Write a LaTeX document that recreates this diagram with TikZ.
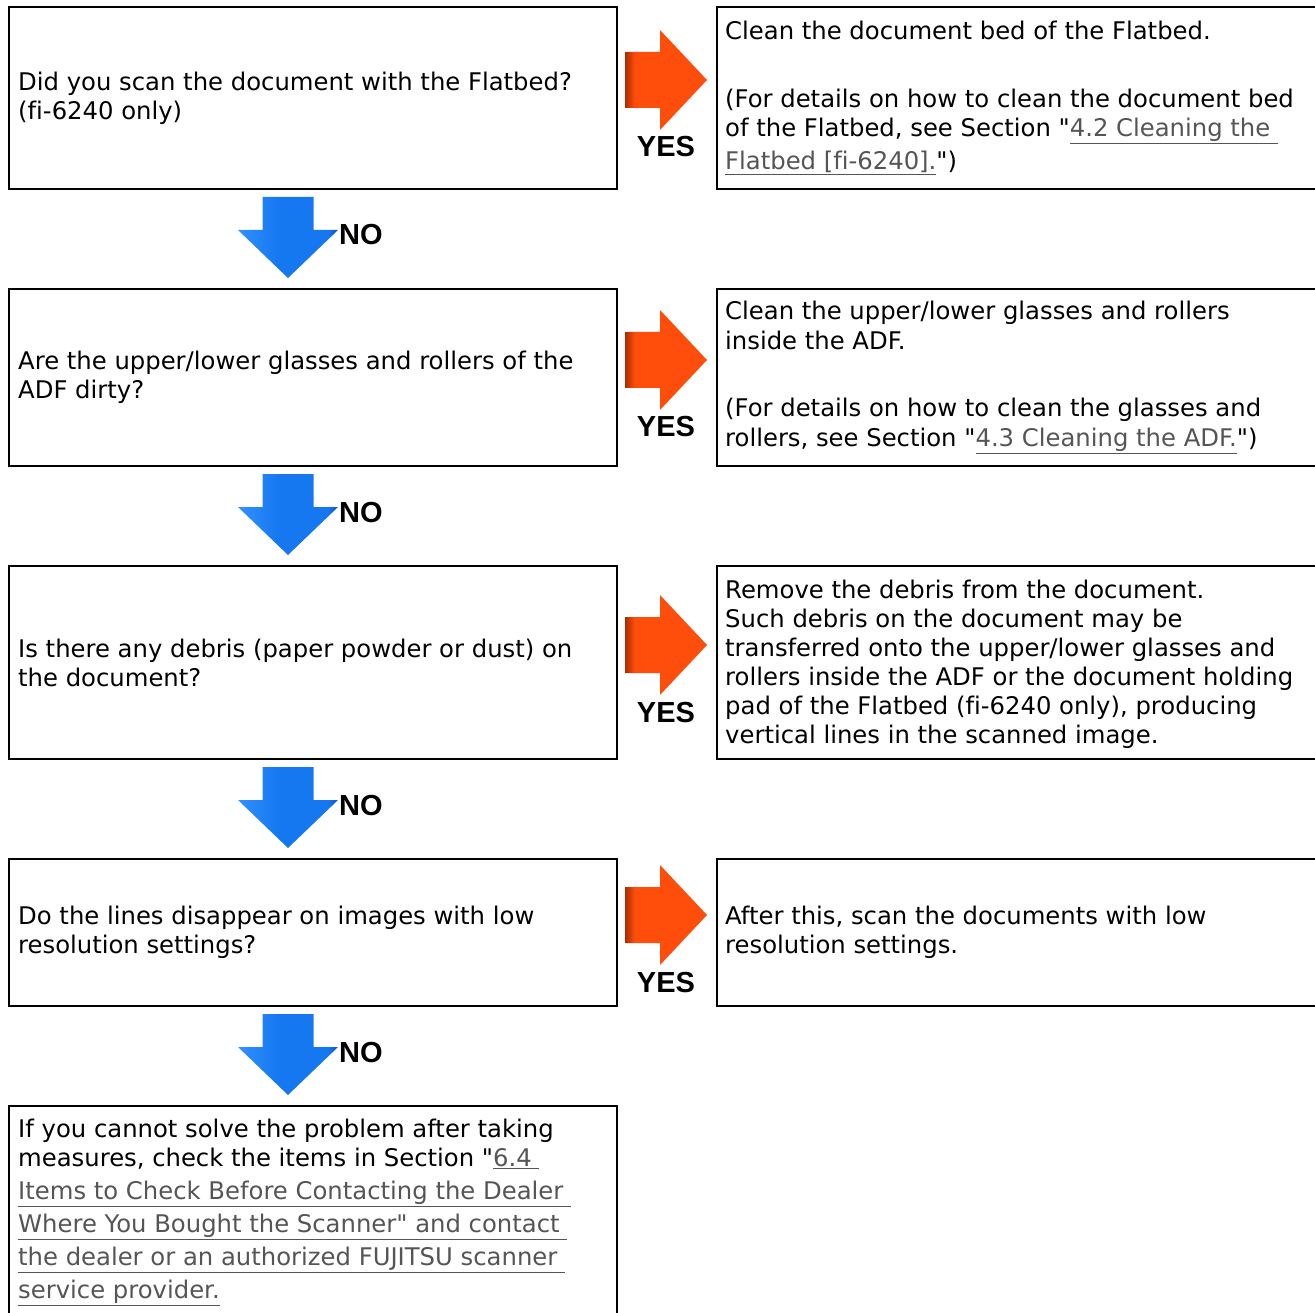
\documentclass[tikz,border=0pt]{standalone}
\usepackage{fontspec}
\setmainfont{DejaVu Sans}[Ligatures={TeXOff,CommonOff}]
\newfontfamily\labfont{Liberation Sans}
\definecolor{linkgray}{HTML}{555555}
\definecolor{omain}{RGB}{255,78,12}
\definecolor{oshadow}{RGB}{170,45,0}
\definecolor{blight}{RGB}{50,145,255}
\definecolor{bmain}{RGB}{22,120,240}
\definecolor{bdark}{RGB}{5,80,200}
\newcommand{\lnk}[1]{\textcolor{linkgray}{\underline{#1}}}
\pgfdeclarehorizontalshading{orangearrow}{100bp}{color(0bp)=(oshadow); color(25bp)=(oshadow); color(31bp)=(omain); color(100bp)=(omain)}
\pgfdeclarehorizontalshading{bluearrow}{100bp}{color(0bp)=(blight); color(25bp)=(blight); color(45bp)=(bmain); color(70bp)=(bmain); color(75bp)=(bdark); color(100bp)=(bdark)}
\tikzset{
  box/.style={draw=black, line width=2pt, rectangle, anchor=north west, inner sep=0pt},
  boxtext/.style={anchor=west, inner sep=0pt, align=left, font=\fontsize{24.3}{29}\selectfont},
  yeslab/.style={anchor=base, inner sep=0pt, font=\labfont\bfseries\fontsize{29}{29}\selectfont},
  nolab/.style={anchor=base west, inner sep=0pt, font=\labfont\bfseries\fontsize{29}{29}\selectfont},
}
\newcommand{\rarrow}[1]{\shade[shading=orangearrow, shift={(#1)}] (-82,-28) -- (-47,-28) -- (-47,-50) -- (0,0) -- (-47,50) -- (-47,28) -- (-82,28) -- cycle;}
\newcommand{\darrow}[1]{\shade[shading=bluearrow, shift={(#1)}] (-25.5,-81) -- (25.5,-81) -- (25.5,-48) -- (50,-48) -- (0,0) -- (-50,-48) -- (-25.5,-48) -- cycle;}
\begin{document}
\begin{tikzpicture}[x=1pt,y=-1pt]
\useasboundingbox (0,0) rectangle (1315,1313);
\clip (0,0) rectangle (1315,1313);
\fill[white] (0,0) rectangle (1315,1313);
% question boxes
\node[box, minimum width=608pt, minimum height=182pt] (q1) at (8,6) {};
\node[box, minimum width=608pt, minimum height=177pt] (q2) at (8,288) {};
\node[box, minimum width=608pt, minimum height=193pt] (q3) at (8,565) {};
\node[box, minimum width=608pt, minimum height=147pt] (q4) at (8,858) {};
\node[box, minimum width=608pt, minimum height=240pt] (q5) at (8,1105) {};
% answer boxes
\node[box, minimum width=640pt, minimum height=182pt] (a1) at (716,6) {};
\node[box, minimum width=640pt, minimum height=177pt] (a2) at (716,288) {};
\node[box, minimum width=640pt, minimum height=193pt] (a3) at (716,565) {};
\node[box, minimum width=640pt, minimum height=147pt] (a4) at (716,858) {};
% texts
\node[boxtext] (tq1) at ([xshift=10pt]q1.west) {Did you scan the document with the Flatbed?\\(fi-6240 only)};
\node[boxtext] (tq2) at ([xshift=10pt]q2.west) {Are the upper/lower glasses and rollers of the\\ADF dirty?};
\node[boxtext] (tq3) at ([xshift=10pt]q3.west) {Is there any debris (paper powder or dust) on\\the document?};
\node[boxtext] (tq4) at ([xshift=10pt]q4.west) {Do the lines disappear on images with low\\resolution settings?};
\node[boxtext, anchor=north west] (tq5) at (18,1119) {If you cannot solve the problem after taking\\measures, check the items in Section "\lnk{6.4 }\\[4pt]\lnk{Items to Check Before Contacting the Dealer }\\[4pt]\lnk{Where You Bought the Scanner" and contact }\\[4pt]\lnk{the dealer or an authorized FUJITSU scanner }\\[4pt]\lnk{service provider.}};
\node[boxtext] (ta1) at ([xshift=9pt]a1.west) {Clean the document bed of the Flatbed.\\[39pt](For details on how to clean the document bed\\of the Flatbed, see Section "\lnk{4.2 Cleaning the }\\[4pt]\lnk{Flatbed [fi-6240].}")};
\node[boxtext] (ta2) at ([xshift=9pt]a2.west) {Clean the upper/lower glasses and rollers\\[1pt]inside the ADF.\\[38pt](For details on how to clean the glasses and\\[1pt]rollers, see Section "\lnk{4.3 Cleaning the ADF.}")};
\node[boxtext] (ta3) at ([xshift=9pt,yshift=-2pt]a3.west) {Remove the debris from the document.\\Such debris on the document may be\\transferred onto the upper/lower glasses and\\rollers inside the ADF or the document holding\\pad of the Flatbed (fi-6240 only), producing\\vertical lines in the scanned image.};
\node[boxtext] (ta4) at ([xshift=9pt]a4.west) {After this, scan the documents with low\\resolution settings.};
% YES arrows
\coordinate (r1) at (707,80);
\coordinate (r2) at (707,360);
\coordinate (r3) at (707,645);
\coordinate (r4) at (707,915);
\rarrow{r1}\rarrow{r2}\rarrow{r3}\rarrow{r4}
\node[yeslab] (y1) at (666,157) {YES};
\node[yeslab] (y2) at (666,437) {YES};
\node[yeslab] (y3) at (666,722) {YES};
\node[yeslab] (y4) at (666,992) {YES};
% NO arrows
\coordinate (d1) at (288,278);
\coordinate (d2) at (288,555);
\coordinate (d3) at (288,848);
\coordinate (d4) at (288,1095);
\darrow{d1}\darrow{d2}\darrow{d3}\darrow{d4}
\node[nolab] (n1) at (339,245) {NO};
\node[nolab] (n2) at (339,522) {NO};
\node[nolab] (n3) at (339,815) {NO};
\node[nolab] (n4) at (339,1062) {NO};
\end{tikzpicture}
\end{document}
